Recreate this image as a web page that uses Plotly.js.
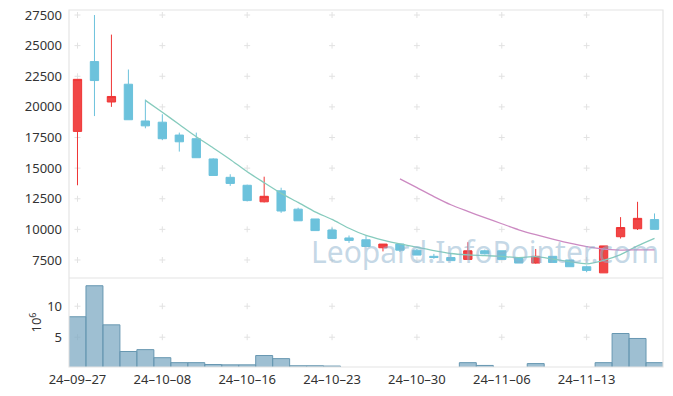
<!DOCTYPE html>
<html>
<head>
<meta charset="utf-8">
<script src="https://cdn.plot.ly/plotly-3.0.1.min.js"></script>
<style>html,body{margin:0;padding:0;background:#fff;}#chart{width:673px;height:396px;}</style>
</head>
<body>
<div id="chart"></div>
<script>
const dates = ['24-09-27','24-09-30','24-10-02','24-10-04','24-10-07','24-10-08','24-10-10','24-10-11','24-10-14','24-10-15',
  '24-10-16','24-10-17','24-10-18','24-10-21','24-10-22','24-10-23','24-10-24','24-10-25','24-10-28','24-10-29',
  '24-10-30','24-10-31','24-11-01','24-11-04','24-11-05','24-11-06','24-11-07','24-11-08','24-11-11','24-11-12',
  '24-11-13','24-11-14','24-11-15','24-11-18','24-11-19'];
const openV  = [18000,23700,20400,21850,18850,18750,17700,17400,15750,14250,13600,12250,13150,11650,10850,9950,9300,9150,8500,8800,8300,7800,7700,7550,8250,8250,7700,7250,7800,7500,6950,6450,9400,10050,10800];
const highV  = [22250,27500,25900,23050,20600,19400,17900,17900,15800,14500,13650,14300,13400,11770,10850,10150,9500,9450,8800,8800,8400,8000,8050,8950,8350,8250,7700,8400,7800,7500,7050,8650,11000,12250,11300];
const lowV   = [13600,19250,20000,18950,18250,17300,16350,15850,14400,13550,12300,12200,11350,10700,9900,9250,8900,8600,8200,8150,7900,7600,7450,7550,7950,7500,7250,7200,7300,6950,6500,6450,9250,9950,10000];
const closeV = [22250,22150,20850,18950,18450,17400,17150,15850,14400,13750,12350,12700,11500,10700,9900,9250,9100,8600,8800,8300,7900,7700,7450,8250,8000,7550,7250,7800,7300,6950,6650,8650,10150,10900,10000];
const ma5    = [null,null,null,null,20530,19560,18560,17560,16650,15710,14700,13810,12940,12200,11430,10810,10090,9510,9130,8810,8540,8260,8030,7920,7860,7790,7700,7770,7580,7370,7190,7470,7940,8660,9270];
const ma20   = [null,null,null,null,null,null,null,null,null,null,null,null,null,null,null,null,null,null,null,14120,13403,12680,12010,11475,10953,10460,9965,9563,9208,8868,8583,8380,8313,8323,8328];
const volumeM = [8.3,13.3,7.0,2.7,3.0,1.7,0.9,0.9,0.6,0.55,0.55,2.05,1.55,0.4,0.4,0.35,0.1,0.1,0.1,0.1,0.1,0.1,0.1,0.9,0.45,0.1,0.1,0.75,0.1,0.1,0.1,0.9,5.6,4.8,0.9];
const priceTicks = [7500,10000,12500,15000,17500,20000,22500,25000,27500];
const volTicks = [5,10];
const xTickDates = dates.filter((d,i)=>i%5===0);
const xTickText = xTickDates.map(d=>d.replace(/-/g,'\u2013'));

const split = 0.2493;
const gridCol = '#e2e2e2';
// grid crosses (drawn below traces) at tick intersections
const shapes = [
  {type:'rect',xref:'paper',yref:'paper',x0:0,x1:1,y0:0,y1:1,line:{color:'#e4e4e4',width:1.2}},
  {type:'line',xref:'paper',yref:'paper',x0:0,x1:1,y0:split,y1:split,line:{color:'#e4e4e4',width:1.2}}
];
function cross(xv, yv, yref){
  shapes.push({type:'line',layer:'below',xref:'x',yref:yref,xsizemode:'pixel',xanchor:xv,x0:-3,x1:3,y0:yv,y1:yv,line:{color:gridCol,width:1}});
  shapes.push({type:'line',layer:'below',xref:'x',yref:yref,ysizemode:'pixel',yanchor:yv,y0:-3,y1:3,x0:xv,x1:xv,line:{color:gridCol,width:1}});
}
xTickDates.forEach(d=>{priceTicks.forEach(v=>cross(d,v,'y'));volTicks.forEach(v=>cross(d,v,'y2'));});

const font = {family:'Noto Sans, Open Sans, sans-serif', size:13, color:'#333'};
const traces = [
  {type:'bar',x:dates,y:volumeM,xaxis:'x',yaxis:'y2',marker:{color:'rgba(125,170,195,0.75)',line:{color:'#6797b1',width:1}}},
  {type:'candlestick',x:dates,open:openV,high:highV,low:lowV,close:closeV,xaxis:'x',yaxis:'y',
    increasing:{line:{color:'#ef3535',width:1},fillcolor:'rgba(240,60,60,0.95)'},
    decreasing:{line:{color:'#6cc2dc',width:1},fillcolor:'#6cc2dc'}},
  {type:'scatter',mode:'lines',x:dates,y:ma5,xaxis:'x',yaxis:'y',line:{color:'#86cbbd',width:1.3,shape:'spline',smoothing:0.6},connectgaps:false},
  {type:'scatter',mode:'lines',x:dates,y:ma20,xaxis:'x',yaxis:'y',line:{color:'#cc8ac2',width:1.3,shape:'spline',smoothing:0.6},connectgaps:false}
];
const layout = {
  width:673,height:396,margin:{l:69,r:10,t:10,b:29},
  paper_bgcolor:'#fff',plot_bgcolor:'#fff',showlegend:false,hovermode:false,
  bargap:0,font:font,
  xaxis:{type:'category',categoryorder:'array',categoryarray:dates,anchor:'y2',range:[-0.5,34.5],tickmode:'array',tickvals:xTickDates,ticktext:xTickText,
    showgrid:false,zeroline:false,showline:false,ticks:'',tickfont:font,tickangle:0,rangeslider:{visible:false},ticklabelstandoff:3},
  yaxis:{domain:[split,1],range:[6030,27910],tickmode:'array',tickvals:priceTicks,ticktext:priceTicks.map(String),
    showgrid:false,zeroline:false,showline:false,ticks:'',tickfont:font,ticklabelstandoff:6},
  yaxis2:{domain:[0,split],range:[0.2,14.55],tickmode:'array',tickvals:volTicks,ticktext:volTicks.map(String),
    showgrid:false,zeroline:false,showline:false,ticks:'',tickfont:font,ticklabelstandoff:6,
    title:{text:'10<sup>6</sup>',font:font,standoff:2}},
  shapes:shapes,
  annotations:[{text:'Leopard.InfoPointer.com',xref:'paper',yref:'paper',x:0.70,y:0.323,xanchor:'center',yanchor:'middle',
    showarrow:false,font:{family:'Noto Sans, Open Sans, sans-serif',size:30,color:'rgba(140,178,205,0.5)'}}]
};
Plotly.newPlot('chart',traces,layout,{staticPlot:true,displayModeBar:false});
</script>
</body>
</html>
